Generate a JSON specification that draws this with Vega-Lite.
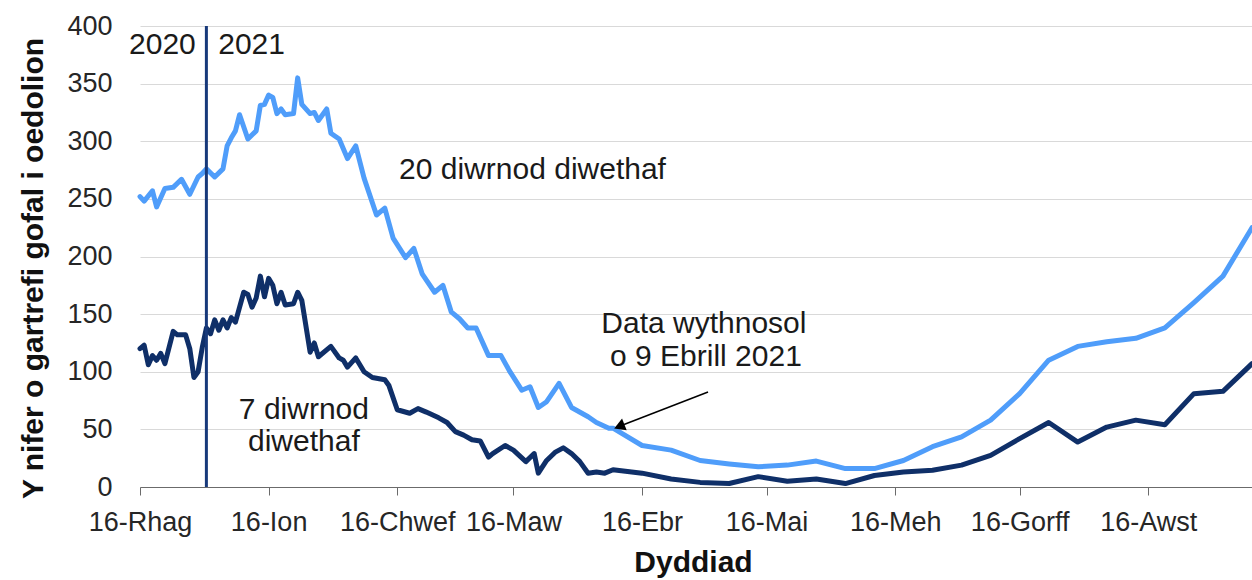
{
  "$schema": "https://vega.github.io/schema/vega-lite/v6.json",
  "width": 1112,
  "height": 461,
  "autosize": {"type": "none"},
  "padding": {"left": 140, "top": 26, "right": 0, "bottom": 93},
  "background": "white",
  "config": {"view": {"stroke": null}, "font": "Liberation Sans"},
  "datasets": {
    "series": [
      {"date": "2020-12-16T00:00", "value": 252, "series": "20 diwrnod diwethaf"},
      {"date": "2020-12-17T00:00", "value": 248, "series": "20 diwrnod diwethaf"},
      {"date": "2020-12-19T00:00", "value": 257, "series": "20 diwrnod diwethaf"},
      {"date": "2020-12-20T00:00", "value": 243, "series": "20 diwrnod diwethaf"},
      {"date": "2020-12-22T00:00", "value": 259, "series": "20 diwrnod diwethaf"},
      {"date": "2020-12-24T00:00", "value": 260, "series": "20 diwrnod diwethaf"},
      {"date": "2020-12-26T00:00", "value": 267, "series": "20 diwrnod diwethaf"},
      {"date": "2020-12-28T00:00", "value": 254, "series": "20 diwrnod diwethaf"},
      {"date": "2020-12-30T00:00", "value": 269, "series": "20 diwrnod diwethaf"},
      {"date": "2020-12-31T00:00", "value": 272, "series": "20 diwrnod diwethaf"},
      {"date": "2021-01-01T00:00", "value": 276, "series": "20 diwrnod diwethaf"},
      {"date": "2021-01-03T00:00", "value": 269, "series": "20 diwrnod diwethaf"},
      {"date": "2021-01-05T00:00", "value": 276, "series": "20 diwrnod diwethaf"},
      {"date": "2021-01-06T00:00", "value": 296, "series": "20 diwrnod diwethaf"},
      {"date": "2021-01-07T00:00", "value": 303, "series": "20 diwrnod diwethaf"},
      {"date": "2021-01-08T00:00", "value": 309, "series": "20 diwrnod diwethaf"},
      {"date": "2021-01-09T00:00", "value": 323, "series": "20 diwrnod diwethaf"},
      {"date": "2021-01-11T00:00", "value": 302, "series": "20 diwrnod diwethaf"},
      {"date": "2021-01-13T00:00", "value": 309, "series": "20 diwrnod diwethaf"},
      {"date": "2021-01-14T00:00", "value": 331, "series": "20 diwrnod diwethaf"},
      {"date": "2021-01-15T00:00", "value": 332, "series": "20 diwrnod diwethaf"},
      {"date": "2021-01-16T00:00", "value": 340, "series": "20 diwrnod diwethaf"},
      {"date": "2021-01-17T00:00", "value": 338, "series": "20 diwrnod diwethaf"},
      {"date": "2021-01-18T00:00", "value": 324, "series": "20 diwrnod diwethaf"},
      {"date": "2021-01-19T00:00", "value": 328, "series": "20 diwrnod diwethaf"},
      {"date": "2021-01-20T00:00", "value": 323, "series": "20 diwrnod diwethaf"},
      {"date": "2021-01-22T00:00", "value": 324, "series": "20 diwrnod diwethaf"},
      {"date": "2021-01-23T00:00", "value": 355, "series": "20 diwrnod diwethaf"},
      {"date": "2021-01-24T00:00", "value": 332, "series": "20 diwrnod diwethaf"},
      {"date": "2021-01-26T00:00", "value": 324, "series": "20 diwrnod diwethaf"},
      {"date": "2021-01-27T00:00", "value": 325, "series": "20 diwrnod diwethaf"},
      {"date": "2021-01-28T00:00", "value": 318, "series": "20 diwrnod diwethaf"},
      {"date": "2021-01-30T00:00", "value": 328, "series": "20 diwrnod diwethaf"},
      {"date": "2021-01-31T00:00", "value": 307, "series": "20 diwrnod diwethaf"},
      {"date": "2021-02-02T00:00", "value": 302, "series": "20 diwrnod diwethaf"},
      {"date": "2021-02-04T00:00", "value": 285, "series": "20 diwrnod diwethaf"},
      {"date": "2021-02-06T00:00", "value": 296, "series": "20 diwrnod diwethaf"},
      {"date": "2021-02-08T00:00", "value": 268, "series": "20 diwrnod diwethaf"},
      {"date": "2021-02-11T00:00", "value": 236, "series": "20 diwrnod diwethaf"},
      {"date": "2021-02-13T00:00", "value": 242, "series": "20 diwrnod diwethaf"},
      {"date": "2021-02-15T00:00", "value": 216, "series": "20 diwrnod diwethaf"},
      {"date": "2021-02-18T00:00", "value": 199, "series": "20 diwrnod diwethaf"},
      {"date": "2021-02-20T00:00", "value": 207, "series": "20 diwrnod diwethaf"},
      {"date": "2021-02-22T00:00", "value": 185, "series": "20 diwrnod diwethaf"},
      {"date": "2021-02-25T00:00", "value": 169, "series": "20 diwrnod diwethaf"},
      {"date": "2021-02-27T00:00", "value": 175, "series": "20 diwrnod diwethaf"},
      {"date": "2021-03-01T00:00", "value": 152, "series": "20 diwrnod diwethaf"},
      {"date": "2021-03-03T00:00", "value": 146, "series": "20 diwrnod diwethaf"},
      {"date": "2021-03-05T00:00", "value": 138, "series": "20 diwrnod diwethaf"},
      {"date": "2021-03-07T00:00", "value": 138, "series": "20 diwrnod diwethaf"},
      {"date": "2021-03-10T00:00", "value": 114, "series": "20 diwrnod diwethaf"},
      {"date": "2021-03-13T00:00", "value": 114, "series": "20 diwrnod diwethaf"},
      {"date": "2021-03-15T00:00", "value": 101, "series": "20 diwrnod diwethaf"},
      {"date": "2021-03-18T00:00", "value": 84, "series": "20 diwrnod diwethaf"},
      {"date": "2021-03-20T00:00", "value": 87, "series": "20 diwrnod diwethaf"},
      {"date": "2021-03-22T00:00", "value": 69, "series": "20 diwrnod diwethaf"},
      {"date": "2021-03-24T00:00", "value": 74, "series": "20 diwrnod diwethaf"},
      {"date": "2021-03-27T00:00", "value": 90, "series": "20 diwrnod diwethaf"},
      {"date": "2021-03-30T00:00", "value": 69, "series": "20 diwrnod diwethaf"},
      {"date": "2021-04-03T00:00", "value": 61, "series": "20 diwrnod diwethaf"},
      {"date": "2021-04-05T00:00", "value": 56, "series": "20 diwrnod diwethaf"},
      {"date": "2021-04-08T00:00", "value": 51, "series": "20 diwrnod diwethaf"},
      {"date": "2021-04-09T00:00", "value": 51, "series": "20 diwrnod diwethaf"},
      {"date": "2021-04-16T00:00", "value": 36, "series": "20 diwrnod diwethaf"},
      {"date": "2021-04-23T00:00", "value": 32, "series": "20 diwrnod diwethaf"},
      {"date": "2021-04-30T00:00", "value": 23, "series": "20 diwrnod diwethaf"},
      {"date": "2021-05-07T00:00", "value": 20, "series": "20 diwrnod diwethaf"},
      {"date": "2021-05-14T00:00", "value": 17.5, "series": "20 diwrnod diwethaf"},
      {"date": "2021-05-21T00:00", "value": 19, "series": "20 diwrnod diwethaf"},
      {"date": "2021-05-28T00:00", "value": 22.5, "series": "20 diwrnod diwethaf"},
      {"date": "2021-06-04T00:00", "value": 16, "series": "20 diwrnod diwethaf"},
      {"date": "2021-06-11T00:00", "value": 16, "series": "20 diwrnod diwethaf"},
      {"date": "2021-06-18T00:00", "value": 23, "series": "20 diwrnod diwethaf"},
      {"date": "2021-06-25T00:00", "value": 35, "series": "20 diwrnod diwethaf"},
      {"date": "2021-07-02T00:00", "value": 43.5, "series": "20 diwrnod diwethaf"},
      {"date": "2021-07-09T00:00", "value": 58, "series": "20 diwrnod diwethaf"},
      {"date": "2021-07-16T00:00", "value": 81, "series": "20 diwrnod diwethaf"},
      {"date": "2021-07-23T00:00", "value": 110, "series": "20 diwrnod diwethaf"},
      {"date": "2021-07-30T00:00", "value": 122, "series": "20 diwrnod diwethaf"},
      {"date": "2021-08-06T00:00", "value": 126, "series": "20 diwrnod diwethaf"},
      {"date": "2021-08-13T00:00", "value": 129, "series": "20 diwrnod diwethaf"},
      {"date": "2021-08-20T00:00", "value": 138, "series": "20 diwrnod diwethaf"},
      {"date": "2021-08-27T00:00", "value": 160, "series": "20 diwrnod diwethaf"},
      {"date": "2021-09-03T00:00", "value": 183, "series": "20 diwrnod diwethaf"},
      {"date": "2021-09-10T00:00", "value": 225, "series": "20 diwrnod diwethaf"},

      {"date": "2020-12-16T00:00", "value": 120, "series": "7 diwrnod diwethaf"},
      {"date": "2020-12-17T00:00", "value": 123, "series": "7 diwrnod diwethaf"},
      {"date": "2020-12-18T00:00", "value": 106, "series": "7 diwrnod diwethaf"},
      {"date": "2020-12-19T00:00", "value": 114, "series": "7 diwrnod diwethaf"},
      {"date": "2020-12-20T00:00", "value": 110, "series": "7 diwrnod diwethaf"},
      {"date": "2020-12-21T00:00", "value": 116, "series": "7 diwrnod diwethaf"},
      {"date": "2020-12-22T00:00", "value": 107, "series": "7 diwrnod diwethaf"},
      {"date": "2020-12-24T00:00", "value": 135, "series": "7 diwrnod diwethaf"},
      {"date": "2020-12-25T00:00", "value": 132, "series": "7 diwrnod diwethaf"},
      {"date": "2020-12-27T00:00", "value": 132, "series": "7 diwrnod diwethaf"},
      {"date": "2020-12-28T00:00", "value": 120, "series": "7 diwrnod diwethaf"},
      {"date": "2020-12-29T00:00", "value": 95, "series": "7 diwrnod diwethaf"},
      {"date": "2020-12-30T00:00", "value": 100, "series": "7 diwrnod diwethaf"},
      {"date": "2020-12-31T00:00", "value": 121, "series": "7 diwrnod diwethaf"},
      {"date": "2021-01-01T00:00", "value": 138, "series": "7 diwrnod diwethaf"},
      {"date": "2021-01-02T00:00", "value": 133, "series": "7 diwrnod diwethaf"},
      {"date": "2021-01-03T00:00", "value": 145, "series": "7 diwrnod diwethaf"},
      {"date": "2021-01-04T00:00", "value": 136, "series": "7 diwrnod diwethaf"},
      {"date": "2021-01-05T00:00", "value": 145, "series": "7 diwrnod diwethaf"},
      {"date": "2021-01-06T00:00", "value": 138, "series": "7 diwrnod diwethaf"},
      {"date": "2021-01-07T00:00", "value": 147, "series": "7 diwrnod diwethaf"},
      {"date": "2021-01-08T00:00", "value": 143, "series": "7 diwrnod diwethaf"},
      {"date": "2021-01-10T00:00", "value": 169, "series": "7 diwrnod diwethaf"},
      {"date": "2021-01-11T00:00", "value": 167, "series": "7 diwrnod diwethaf"},
      {"date": "2021-01-12T00:00", "value": 156, "series": "7 diwrnod diwethaf"},
      {"date": "2021-01-13T00:00", "value": 164, "series": "7 diwrnod diwethaf"},
      {"date": "2021-01-14T00:00", "value": 183, "series": "7 diwrnod diwethaf"},
      {"date": "2021-01-15T00:00", "value": 165, "series": "7 diwrnod diwethaf"},
      {"date": "2021-01-16T00:00", "value": 181, "series": "7 diwrnod diwethaf"},
      {"date": "2021-01-17T00:00", "value": 175, "series": "7 diwrnod diwethaf"},
      {"date": "2021-01-18T00:00", "value": 159, "series": "7 diwrnod diwethaf"},
      {"date": "2021-01-19T00:00", "value": 169, "series": "7 diwrnod diwethaf"},
      {"date": "2021-01-20T00:00", "value": 158, "series": "7 diwrnod diwethaf"},
      {"date": "2021-01-22T00:00", "value": 159, "series": "7 diwrnod diwethaf"},
      {"date": "2021-01-23T00:00", "value": 169, "series": "7 diwrnod diwethaf"},
      {"date": "2021-01-24T00:00", "value": 162, "series": "7 diwrnod diwethaf"},
      {"date": "2021-01-26T00:00", "value": 117, "series": "7 diwrnod diwethaf"},
      {"date": "2021-01-27T00:00", "value": 125, "series": "7 diwrnod diwethaf"},
      {"date": "2021-01-28T00:00", "value": 113, "series": "7 diwrnod diwethaf"},
      {"date": "2021-01-31T00:00", "value": 122, "series": "7 diwrnod diwethaf"},
      {"date": "2021-02-02T00:00", "value": 112, "series": "7 diwrnod diwethaf"},
      {"date": "2021-02-03T00:00", "value": 110, "series": "7 diwrnod diwethaf"},
      {"date": "2021-02-04T00:00", "value": 104, "series": "7 diwrnod diwethaf"},
      {"date": "2021-02-06T00:00", "value": 112, "series": "7 diwrnod diwethaf"},
      {"date": "2021-02-08T00:00", "value": 100, "series": "7 diwrnod diwethaf"},
      {"date": "2021-02-10T00:00", "value": 95, "series": "7 diwrnod diwethaf"},
      {"date": "2021-02-13T00:00", "value": 93, "series": "7 diwrnod diwethaf"},
      {"date": "2021-02-14T00:00", "value": 88, "series": "7 diwrnod diwethaf"},
      {"date": "2021-02-16T00:00", "value": 67, "series": "7 diwrnod diwethaf"},
      {"date": "2021-02-19T00:00", "value": 64, "series": "7 diwrnod diwethaf"},
      {"date": "2021-02-21T00:00", "value": 68, "series": "7 diwrnod diwethaf"},
      {"date": "2021-02-23T00:00", "value": 65, "series": "7 diwrnod diwethaf"},
      {"date": "2021-02-26T00:00", "value": 60, "series": "7 diwrnod diwethaf"},
      {"date": "2021-02-28T00:00", "value": 56, "series": "7 diwrnod diwethaf"},
      {"date": "2021-03-02T00:00", "value": 48, "series": "7 diwrnod diwethaf"},
      {"date": "2021-03-04T00:00", "value": 45, "series": "7 diwrnod diwethaf"},
      {"date": "2021-03-06T00:00", "value": 41, "series": "7 diwrnod diwethaf"},
      {"date": "2021-03-08T00:00", "value": 40, "series": "7 diwrnod diwethaf"},
      {"date": "2021-03-10T00:00", "value": 26, "series": "7 diwrnod diwethaf"},
      {"date": "2021-03-11T00:00", "value": 29, "series": "7 diwrnod diwethaf"},
      {"date": "2021-03-14T00:00", "value": 36, "series": "7 diwrnod diwethaf"},
      {"date": "2021-03-16T00:00", "value": 32, "series": "7 diwrnod diwethaf"},
      {"date": "2021-03-19T00:00", "value": 22, "series": "7 diwrnod diwethaf"},
      {"date": "2021-03-21T00:00", "value": 29, "series": "7 diwrnod diwethaf"},
      {"date": "2021-03-22T00:00", "value": 12, "series": "7 diwrnod diwethaf"},
      {"date": "2021-03-24T00:00", "value": 23, "series": "7 diwrnod diwethaf"},
      {"date": "2021-03-26T00:00", "value": 30, "series": "7 diwrnod diwethaf"},
      {"date": "2021-03-28T00:00", "value": 34, "series": "7 diwrnod diwethaf"},
      {"date": "2021-03-30T00:00", "value": 29, "series": "7 diwrnod diwethaf"},
      {"date": "2021-04-01T00:00", "value": 22, "series": "7 diwrnod diwethaf"},
      {"date": "2021-04-03T00:00", "value": 12, "series": "7 diwrnod diwethaf"},
      {"date": "2021-04-05T00:00", "value": 13, "series": "7 diwrnod diwethaf"},
      {"date": "2021-04-07T00:00", "value": 12, "series": "7 diwrnod diwethaf"},
      {"date": "2021-04-09T00:00", "value": 15, "series": "7 diwrnod diwethaf"},
      {"date": "2021-04-16T00:00", "value": 12, "series": "7 diwrnod diwethaf"},
      {"date": "2021-04-23T00:00", "value": 7, "series": "7 diwrnod diwethaf"},
      {"date": "2021-04-30T00:00", "value": 4, "series": "7 diwrnod diwethaf"},
      {"date": "2021-05-07T00:00", "value": 3, "series": "7 diwrnod diwethaf"},
      {"date": "2021-05-14T00:00", "value": 9, "series": "7 diwrnod diwethaf"},
      {"date": "2021-05-21T00:00", "value": 5, "series": "7 diwrnod diwethaf"},
      {"date": "2021-05-28T00:00", "value": 7, "series": "7 diwrnod diwethaf"},
      {"date": "2021-06-04T00:00", "value": 3, "series": "7 diwrnod diwethaf"},
      {"date": "2021-06-11T00:00", "value": 10, "series": "7 diwrnod diwethaf"},
      {"date": "2021-06-18T00:00", "value": 13, "series": "7 diwrnod diwethaf"},
      {"date": "2021-06-25T00:00", "value": 14.5, "series": "7 diwrnod diwethaf"},
      {"date": "2021-07-02T00:00", "value": 19, "series": "7 diwrnod diwethaf"},
      {"date": "2021-07-09T00:00", "value": 27.5, "series": "7 diwrnod diwethaf"},
      {"date": "2021-07-16T00:00", "value": 42, "series": "7 diwrnod diwethaf"},
      {"date": "2021-07-23T00:00", "value": 56, "series": "7 diwrnod diwethaf"},
      {"date": "2021-07-30T00:00", "value": 39, "series": "7 diwrnod diwethaf"},
      {"date": "2021-08-06T00:00", "value": 52, "series": "7 diwrnod diwethaf"},
      {"date": "2021-08-13T00:00", "value": 58, "series": "7 diwrnod diwethaf"},
      {"date": "2021-08-20T00:00", "value": 54, "series": "7 diwrnod diwethaf"},
      {"date": "2021-08-27T00:00", "value": 81, "series": "7 diwrnod diwethaf"},
      {"date": "2021-09-03T00:00", "value": 83, "series": "7 diwrnod diwethaf"},
      {"date": "2021-09-10T00:00", "value": 107, "series": "7 diwrnod diwethaf"}
    ],
    "divider": [{"date": "2021-01-01T00:00"}],
    "labels": [
      {"date": "2020-12-21T09:36", "value": 383.5, "label": "2020"},
      {"date": "2021-01-11T21:36", "value": 383.5, "label": "2021"},
      {"date": "2021-03-20T14:24", "value": 275, "label": "20 diwrnod diwethaf"},
      {"date": "2021-01-24T12:00", "value": 67, "label": "7 diwrnod"},
      {"date": "2021-01-24T12:00", "value": 39, "label": "diwethaf"},
      {"date": "2021-04-30T21:36", "value": 141.4, "label": "Data wythnosol"},
      {"date": "2021-05-01T09:36", "value": 112.8, "label": "o 9 Ebrill 2021"}
    ],
    "arrow": [
      {"date": "2021-05-01T21:36", "value": 82.4, "date2": "2021-04-11T15:36", "value2": 54.2}
    ],
    "arrowhead": [
      {"date": "2021-04-10T22:00", "value": 53.1}
    ]
  },
  "layer": [
    {
      "data": {"name": "series"},
      "mark": {"type": "line", "strokeWidth": 5, "strokeJoin": "round", "strokeCap": "round"},
      "encoding": {
        "x": {
          "field": "date", "type": "temporal", "title": "Dyddiad",
          "scale": {"domain": [{"year": 2020, "month": 12, "date": 16}, {"year": 2021, "month": 9, "date": 10}], "nice": false},
          "axis": {
            "values": [
              {"year": 2020, "month": 12, "date": 16},
              {"year": 2021, "month": 1, "date": 16},
              {"year": 2021, "month": 2, "date": 16},
              {"year": 2021, "month": 3, "date": 16},
              {"year": 2021, "month": 4, "date": 16},
              {"year": 2021, "month": 5, "date": 16},
              {"year": 2021, "month": 6, "date": 16},
              {"year": 2021, "month": 7, "date": 16},
              {"year": 2021, "month": 8, "date": 16}
            ],
            "labelExpr": "'16-' + ['Ion','Chwef','Maw','Ebr','Mai','Meh','Gorff','Awst','Medi','Hyd','Tach','Rhag'][month(datum.value)]",
            "grid": false,
            "domainColor": "#6b6b6b",
            "domainWidth": 1.2,
            "tickColor": "#6b6b6b",
            "tickSize": 8,
            "labelPadding": 14,
            "labelFontSize": 27,
            "labelColor": "#262626",
            "labelFlush": false,
            "labelOverlap": false,
            "titleFontSize": 30,
            "titleFontWeight": "bold",
            "titleColor": "#111111",
            "titleX": 553,
            "titleY": 84,
            "titleBaseline": "alphabetic",
            "titleAlign": "center"
          }
        },
        "y": {
          "field": "value", "type": "quantitative", "title": "Y nifer o gartrefi gofal i oedolion",
          "scale": {"domain": [0, 400], "nice": false},
          "axis": {
            "values": [0, 50, 100, 150, 200, 250, 300, 350, 400],
            "domain": false,
            "ticks": false,
            "tickSize": 0,
            "labelPadding": 28,
            "labelFontSize": 27,
            "labelColor": "#262626",
            "gridColor": "#d9d9d9",
            "gridWidth": 1,
            "titleFontSize": 30,
            "titleFontWeight": "bold",
            "titleColor": "#111111",
            "titleAngle": -90,
            "titleX": -107,
            "titleY": 242,
            "titleAlign": "center",
            "titleBaseline": "middle"
          }
        },
        "color": {
          "field": "series", "type": "nominal",
          "scale": {"domain": ["20 diwrnod diwethaf", "7 diwrnod diwethaf"], "range": ["#4F9DFA", "#0F2F68"]},
          "legend": null
        }
      }
    },
    {
      "data": {"name": "divider"},
      "mark": {"type": "rule", "color": "#17397A", "strokeWidth": 3},
      "encoding": {
        "x": {"field": "date", "type": "temporal", "title": "Dyddiad"}
      }
    },
    {
      "data": {"name": "labels"},
      "mark": {"type": "text", "fontSize": 30, "color": "#1a1a1a", "align": "center", "baseline": "middle"},
      "encoding": {
        "x": {"field": "date", "type": "temporal", "title": "Dyddiad"},
        "y": {"field": "value", "type": "quantitative", "title": "Y nifer o gartrefi gofal i oedolion"},
        "text": {"field": "label"}
      }
    },
    {
      "data": {"name": "arrow"},
      "mark": {"type": "rule", "color": "#000000", "strokeWidth": 1.5},
      "encoding": {
        "x": {"field": "date", "type": "temporal", "title": "Dyddiad"},
        "y": {"field": "value", "type": "quantitative", "title": "Y nifer o gartrefi gofal i oedolion"},
        "x2": {"field": "date2"},
        "y2": {"field": "value2"}
      }
    },
    {
      "data": {"name": "arrowhead"},
      "mark": {"type": "point", "shape": "triangle", "filled": true, "color": "#000000", "opacity": 1, "size": 160, "angle": 248.6},
      "encoding": {
        "x": {"field": "date", "type": "temporal", "title": "Dyddiad"},
        "y": {"field": "value", "type": "quantitative", "title": "Y nifer o gartrefi gofal i oedolion"}
      }
    }
  ]
}
